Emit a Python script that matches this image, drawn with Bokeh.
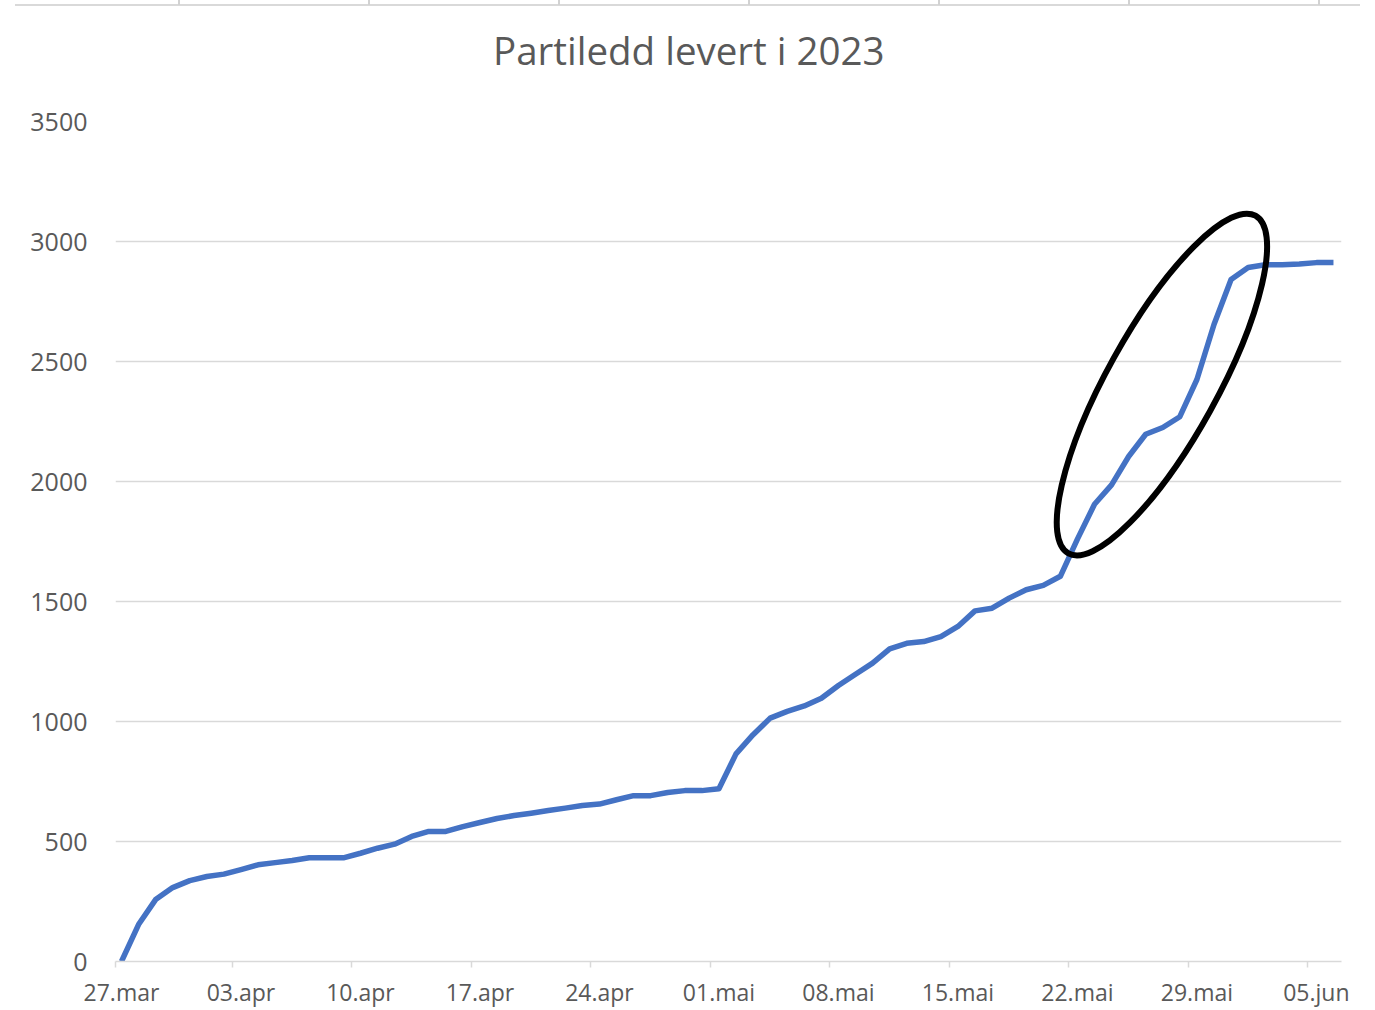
from bokeh.plotting import figure
from bokeh.models import Range1d, FixedTicker, Div, ColumnDataSource
from bokeh.layouts import column
from bokeh.embed import file_html
from bokeh.resources import INLINE

# ---- data ----
title_text = "Partiledd levert i 2023"
# cumulative delivered items, one value per day from 27.mar to 06.jun
delivered = [
    0, 154, 258, 308, 337, 354, 364, 383, 403, 412,
    421, 432, 432, 432, 451, 472, 489, 521, 542, 542,
    562, 579, 596, 608, 618, 629, 639, 650, 656, 674,
    691, 691, 704, 712, 712, 720, 865, 945, 1014, 1042,
    1065, 1097, 1150, 1197, 1243, 1303, 1326, 1333, 1354, 1396,
    1461, 1472, 1514, 1549, 1567, 1605, 1760, 1905, 1986, 2104,
    2197, 2225, 2270, 2425, 2654, 2842, 2892, 2903, 2903, 2906,
    2912, 2912,
]
day_index = list(range(len(delivered)))
tick_days = [0, 7, 14, 21, 28, 35, 42, 49, 56, 63, 70]
tick_labels = ["27.mar", "03.apr", "10.apr", "17.apr", "24.apr", "01.mai",
               "08.mai", "15.mai", "22.mai", "29.mai", "05.jun"]
y_ticks = [0, 500, 1000, 1500, 2000, 2500, 3000, 3500]

# highlight ellipse (hand-drawn annotation in the original)
ell_day = 60.95
ell_value = 2404
ell_major_px = 386
ell_minor_px = 110
ell_angle_deg = 61

TEXT = "#595959"
GRID = "#d9d9d9"
FONT = "Open Sans"

x_start, x_end = -0.35, 71.47

HEADER_H = 80

p = figure(width=1367, height=1010 - HEADER_H, output_backend="svg",
           toolbar_location=None,
           x_range=Range1d(x_start, x_end), y_range=Range1d(0, 3500),
           min_border_left=115, min_border_right=26, min_border_top=121 - HEADER_H,
           min_border_bottom=49)
p.outline_line_color = None
p.background_fill_color = "white"
p.border_fill_color = "white"

# x axis
xa = p.xaxis[0]
minor = [x_start] + [d - 0.5 for d in tick_days[1:]]
xa.ticker = FixedTicker(ticks=tick_days, minor_ticks=minor)
xa.major_label_overrides = {d: lab for d, lab in zip(tick_days, tick_labels)}
xa.major_tick_line_color = None
xa.major_tick_out = 0
xa.major_tick_in = 0
xa.minor_tick_line_color = GRID
xa.minor_tick_line_width = 1.5
xa.minor_tick_out = 6
xa.minor_tick_in = 0
xa.axis_line_color = GRID
xa.axis_line_width = 1.5
xa.major_label_text_font = FONT
xa.major_label_text_font_size = "23px"
xa.major_label_text_color = TEXT
xa.major_label_standoff = 8

# y axis
ya = p.yaxis[0]
ya.ticker = FixedTicker(ticks=y_ticks)
ya.axis_line_color = None
ya.major_tick_line_color = None
ya.minor_tick_line_color = None
ya.major_tick_out = 0
ya.major_tick_in = 0
ya.major_label_text_font = FONT
ya.major_label_text_font_size = "25px"
ya.major_label_text_color = TEXT
ya.major_label_standoff = 28

p.xgrid.grid_line_color = None
p.ygrid.ticker = FixedTicker(ticks=y_ticks[1:])
p.ygrid.grid_line_color = GRID
p.ygrid.grid_line_width = 1.5

src = ColumnDataSource(dict(x=day_index, y=delivered))
p.line("x", "y", source=src, line_color="#4472C4", line_width=5.5,
       line_join="round")

p.ellipse(x=[ell_day], y=[ell_value], width=[ell_major_px], height=[ell_minor_px],
          width_units="screen", height_units="screen",
          angle=[ell_angle_deg], angle_units="deg",
          fill_color=None, line_color="black", line_width=6)

# header: thin grey rule at the very top (part of the original screenshot) + title
rule_ticks = [178, 368, 558, 748, 938, 1128, 1318]
html = ['<div style="position:relative;width:1375px;height:%dpx;overflow:hidden">' % HEADER_H,
        '<div style="position:absolute;left:15px;top:4px;width:1345px;height:2px;background:#d9d9d9"></div>']
for t in rule_ticks:
    html.append('<div style="position:absolute;left:%dpx;top:0px;width:2px;height:5px;background:#d2d2d2"></div>' % t)
html.append('<div style="position:absolute;left:493px;top:31px;white-space:nowrap;'
            'font-family:\'Open Sans\';font-size:38.5px;line-height:38px;color:%s">%s</div>'
            % (TEXT, title_text))
html.append('</div>')
header = Div(text="".join(html), width=1375, height=HEADER_H, margin=0)

layout = column(header, p, spacing=0)
open("out.html", "w").write(file_html(layout, INLINE))
